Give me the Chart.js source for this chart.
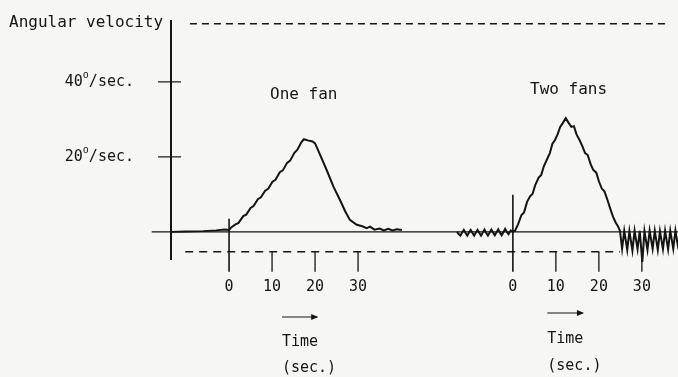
<!DOCTYPE html>
<html>
<head>
<meta charset="utf-8">
<script src="https://cdn.jsdelivr.net/npm/chart.js@4/dist/chart.umd.min.js"></script>
<style>
  html, body { margin: 0; padding: 0; background: #f6f6f3; }
  #wrap { width: 678px; height: 377px; }
</style>
</head>
<body>
<div id="wrap"><canvas id="chart" width="678" height="377"></canvas></div>
<script>
// One fan run: seconds from switch-on, angular velocity in deg/sec
const oneFanTime = [-13.5, -10, -6, -3, -1, 0,
  0.5, 1.5, 2.2, 3.3, 4.0, 5.0, 5.7, 6.7, 7.4, 8.4, 9.1, 10.1, 10.8, 11.8, 12.5,
  13.5, 14.2, 15.2, 15.9, 16.8, 17.4, 18.3, 19.4, 20.0,
  21.0, 22.7, 24.3, 25.8, 27.0, 28.1, 29.7, 31.0, 32.0, 32.8, 33.8, 35.0, 36.0, 37.0, 38.0, 39.0, 40.2];
const oneFanVel = [0, 0.1, 0.2, 0.4, 0.6, 0.5,
  1.2, 2.0, 2.4, 4.2, 4.6, 6.4, 6.9, 8.7, 9.2, 11.0, 11.5, 13.4, 13.9, 15.9, 16.4,
  18.4, 19.0, 21.1, 21.9, 23.9, 24.7, 24.4, 24.1, 23.6,
  21.0, 16.5, 12.0, 8.5, 5.5, 3.2, 1.9, 1.5, 1.0, 1.4, 0.6, 0.9, 0.4, 0.8, 0.4, 0.7, 0.5];

// Two fans run
const twoFanTime = [-13.0, -12.6, -12.2, -11.8, -11.4, -11.0, -10.6, -10.2, -9.8, -9.4, -9.0, -8.6, -8.2, -7.8, -7.4, -7.0,
  -6.6, -6.2, -5.8, -5.4, -5.0, -4.6, -4.2, -3.8, -3.4, -3.0, -2.6, -2.2, -1.8, -1.4, -1.0, -0.5, 0,
  0.5, 1.2, 2.0, 2.6, 3.3, 4.0, 4.6, 5.2, 6.0, 6.6, 7.2, 8.0, 8.6, 9.2, 9.8, 10.4, 11.0, 11.6, 12.3,
  13.0, 13.6, 14.2, 14.8, 15.5, 16.1, 16.8, 17.4, 18.1, 18.7, 19.4, 20.0, 20.7, 21.3, 22.0, 22.7, 23.3, 23.9, 24.4, 24.9,
  25.4, 25.9, 26.6, 27.1, 27.8, 28.3, 29.0, 29.5, 30.1, 30.6, 31.3, 31.8, 32.5, 33.0, 33.7, 34.2, 34.9, 35.4, 36.1, 36.6, 37.3, 37.8, 38.5];
const twoFanVel = [0, -0.6, -1.0, -0.2, 0.5, -0.3, -1.0, -0.2, 0.5, -0.3, -1.0, -0.2, 0.5, -0.3, -1.0, -0.2,
  0.6, -0.3, -1.0, -0.2, 0.6, -0.2, -0.9, -0.1, 0.7, -0.2, -0.9, -0.1, 0.8, 0.0, -0.6, 0.4, 0,
  0.3, 2.0, 4.5, 5.2, 8.0, 9.5, 10.2, 12.5, 14.5, 15.2, 17.5, 19.5, 21.0, 23.5, 24.5, 26.0, 28.0, 29.0, 30.3,
  29.0, 28.0, 28.2, 26.0, 24.5, 23.0, 21.0, 20.5, 18.0, 16.5, 15.8, 13.5, 11.5, 10.8, 8.5, 6.0, 4.0, 2.5, 1.6, 0.3,
  -4.5, 0.3, -4.8, 0.2, -5.0, 0.3, -4.6, 0.3, -8.0, 0.2, -4.8, 0.3, -4.5, 0.3, -4.8, 0.2, -4.6, 0.3, -4.7, 0.3, -4.5, 0.3, -4.6];

const twoFanStart = 66;          // where the second run's zero sits on the shared time axis
const timeTicks = [0, 10, 20, 30];
const velTicks = [40, 20];
const upperLimit = 55.5;         // dashed line at the top
const lowerLimit = -5.3;         // dashed line under the trace

const INK = '#141414';
const FONT = '"DejaVu Sans Mono", monospace';

function toPoints(times, vels, shift) {
    return times.map((t, i) => ({ x: t + shift, y: vels[i] }));
}

// Draws the hand-drawn style axes, reference lines and labels
const sketchPlugin = {
    id: 'sketch',
    beforeDraw(chart) {
        const c = chart.ctx;
        c.save();
        c.fillStyle = '#f6f6f3';
        c.fillRect(0, 0, chart.width, chart.height);
        c.restore();
    },
    beforeDatasetsDraw(chart) {
        const c = chart.ctx;
        const xs = chart.scales.x, ys = chart.scales.y;
        const X = v => xs.getPixelForValue(v);
        const Y = v => ys.getPixelForValue(v);
        const left = chart.chartArea.left;
        c.save();
        c.strokeStyle = INK;

        // zero line
        c.lineWidth = 1.2;
        c.beginPath();
        c.moveTo(X(-18), Y(0));
        c.lineTo(chart.width, Y(0));
        c.stroke();

        // vertical axis
        c.lineWidth = 2;
        c.beginPath();
        c.moveTo(left, chart.chartArea.top);
        c.lineTo(left, chart.chartArea.bottom);
        c.stroke();

        // axis ticks
        c.lineWidth = 1.2;
        velTicks.forEach(v => {
            c.beginPath();
            c.moveTo(left - 13, Y(v));
            c.lineTo(left + 10, Y(v));
            c.stroke();
        });

        // dashed reference lines
        c.lineWidth = 1.3;
        c.setLineDash([7, 5]);
        c.beginPath();
        c.moveTo(X(-9.1), Y(upperLimit));
        c.lineTo(X(102.1), Y(upperLimit));
        c.stroke();
        c.setLineDash([8, 6]);
        c.beginPath();
        c.moveTo(X(-10.2), Y(lowerLimit));
        c.lineTo(X(twoFanStart + 24.9), Y(lowerLimit));
        c.stroke();
        c.setLineDash([]);

        // time ticks for both runs
        const tickBottom = Y(lowerLimit) + 20;
        [[0, 3.5], [twoFanStart, 9.9]].forEach(([start, zeroTop]) => {
            timeTicks.forEach(t => {
                c.lineWidth = t === 0 ? 1.6 : 1.3;
                c.beginPath();
                c.moveTo(X(start + t), t === 0 ? Y(zeroTop) : Y(lowerLimit));
                c.lineTo(X(start + t), tickBottom);
                c.stroke();
            });
        });
        c.restore();
    },
    afterDatasetsDraw(chart) {
        const c = chart.ctx;
        const xs = chart.scales.x, ys = chart.scales.y;
        const X = v => xs.getPixelForValue(v);
        const Y = v => ys.getPixelForValue(v);
        const left = chart.chartArea.left;
        c.save();
        c.fillStyle = INK;
        c.strokeStyle = INK;
        c.textBaseline = 'middle';

        // axis title
        c.font = '16px ' + FONT;
        c.textAlign = 'left';
        c.fillText('Angular velocity', 9, 23);

        // velocity labels with superscript o
        velTicks.forEach(v => {
            c.font = '15px ' + FONT;
            const main = c.measureText(String(v)).width;
            const tail = c.measureText('/sec.').width;
            c.font = '10px ' + FONT;
            const sup = c.measureText('o').width;
            let x = left - 37 - (main + sup + tail);
            c.font = '15px ' + FONT;
            c.fillText(String(v), x, Y(v));
            x += main;
            c.font = '10px ' + FONT;
            c.fillText('o', x, Y(v) - 6);
            x += sup;
            c.font = '15px ' + FONT;
            c.fillText('/sec.', x, Y(v));
        });

        // run labels
        c.font = '16px ' + FONT;
        c.fillText('One fan', 270, 95);
        c.fillText('Two fans', 530, 90);

        // tick labels
        c.font = '15px ' + FONT;
        c.textAlign = 'center';
        const labelY = Y(lowerLimit) + 35;
        [0, twoFanStart].forEach(start => {
            timeTicks.forEach(t => c.fillText(String(t), X(start + t), labelY));
        });

        // arrows and time captions
        c.textAlign = 'left';
        [[12.3, 20.5, 317, 342, 368], [twoFanStart + 8, twoFanStart + 16.3, 313, 339, 366]].forEach(([a, b, ay, ty, sy]) => {
            c.lineWidth = 1.2;
            c.beginPath();
            c.moveTo(X(a), ay);
            c.lineTo(X(b), ay);
            c.stroke();
            c.beginPath();
            c.moveTo(X(b) + 1, ay);
            c.lineTo(X(b) - 6, ay - 3);
            c.lineTo(X(b) - 6, ay + 3);
            c.closePath();
            c.fill();
            c.fillText('Time', X(a), ty);
            c.fillText('(sec.)', X(a), sy);
        });
        c.restore();
    }
};

new Chart(document.getElementById('chart'), {
    type: 'line',
    data: {
        datasets: [
            { label: 'One fan', data: toPoints(oneFanTime, oneFanVel, 0) },
            { label: 'Two fans', data: toPoints(twoFanTime, twoFanVel, twoFanStart) }
        ].map(ds => Object.assign(ds, {
            borderColor: INK,
            borderWidth: 2,
            pointRadius: 0,
            tension: 0,
            fill: false,
            clip: false
        }))
    },
    options: {
        responsive: false,
        animation: false,
        layout: { padding: { left: 171, right: 0, top: 20, bottom: 117 } },
        plugins: { legend: { display: false }, tooltip: { enabled: false } },
        scales: {
            x: { type: 'linear', display: false, min: -13.5, max: 104.4 },
            y: { type: 'linear', display: false, min: -7.5, max: 56.5 }
        }
    },
    plugins: [sketchPlugin]
});
</script>
</body>
</html>
